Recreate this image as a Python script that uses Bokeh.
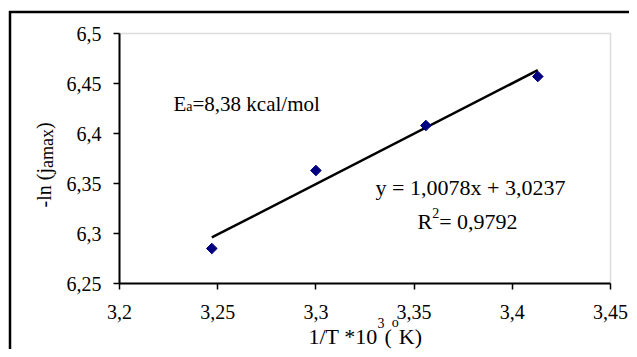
import numpy as np
from bokeh.plotting import figure
from bokeh.models import FixedTicker, Label, BoxAnnotation, Range1d, LinearAxis
from bokeh.embed import file_html
from bokeh.resources import INLINE

# ---- data ----
inv_T = [3.247, 3.300, 3.356, 3.413]
neg_ln_j = [6.285, 6.363, 6.408, 6.457]
slope = 1.0078
intercept = 3.0237

x_ticks = [3.2, 3.25, 3.3, 3.35, 3.4, 3.45]
x_tick_labels = ["3,2", "3,25", "3,3", "3,35", "3,4", "3,45"]
y_ticks = [6.25, 6.3, 6.35, 6.4, 6.45, 6.5]
y_tick_labels = ["6,25", "6,3", "6,35", "6,4", "6,45", "6,5"]

ea_text = "=8,38 kcal/mol"
eq_text = "y = 1,0078x + 3,0237"
r2_text = " = 0,9792"

FONT = "Liberation Serif"

# ---- geometry (canvas pixels) ----
W, H = 629, 349
X0, X1 = 3.2, 3.45
Y0, Y1 = 6.25, 6.5
FL, FR, FT, FB = 119, 610, 33, 283      # plot area
SX = (FR - FL) / (X1 - X0)
SY = (FB - FT) / (Y1 - Y0)
SHIFT = 8                               # renderer's text baseline offset

def dx(px):
    return X0 + (px - FL) / SX

def dy(py):
    return Y0 + (FB - py) / SY

p = figure(width=W, height=H, output_backend="svg", toolbar_location=None,
           x_range=Range1d(dx(0), dx(W)), y_range=Range1d(dy(H), dy(0)),
           x_axis_location=None, y_axis_location=None,
           min_border=0)
p.background_fill_color = "white"
p.border_fill_color = "white"
p.grid.visible = False
p.outline_line_color = None

# plot-area frame (grey top/right)
p.add_layout(BoxAnnotation(left=X0, right=X1, bottom=Y0, top=Y1,
                           fill_alpha=0, line_color="#8c8c8c", line_width=1.5,
                           level="underlay"))

xaxis = LinearAxis(fixed_location=Y0, bounds=(X0, X1), ticker=FixedTicker(ticks=x_ticks))
yaxis = LinearAxis(fixed_location=X0, bounds=(Y0, Y1), ticker=FixedTicker(ticks=y_ticks))
xaxis.major_label_overrides = dict(zip(x_ticks, x_tick_labels))
yaxis.major_label_overrides = dict(zip(y_ticks, y_tick_labels))
xaxis.major_label_standoff = 15
yaxis.major_label_standoff = 12
for ax in (xaxis, yaxis):
    ax.axis_line_color = "black"
    ax.axis_line_width = 2
    ax.major_tick_line_color = "black"
    ax.major_tick_line_width = 1.5
    ax.major_tick_in = 0
    ax.major_tick_out = 6
    ax.minor_tick_line_color = None
    ax.major_label_text_font = FONT
    ax.major_label_text_font_size = "20px"
    ax.major_label_text_color = "black"
p.add_layout(xaxis, "below")
p.add_layout(yaxis, "left")

# trend line
xl = np.array([min(inv_T), max(inv_T)])
p.line(xl, slope * xl + intercept, line_color="black", line_width=2.5)

# points
p.scatter(inv_T, neg_ln_j, marker="square", angle=np.pi / 4, size=7.5,
          fill_color="#000080", line_color="#000080")

def lab(x, y, text, size, align="left"):
    p.add_layout(Label(x=dx(x), y=dy(y - SHIFT), text=text, text_font=FONT,
                       text_font_size=f"{size}px", text_color="black",
                       text_align=align, text_baseline="alphabetic"))

def vlab(x, y, text, size):
    p.add_layout(Label(x=dx(x - SHIFT + 1), y=dy(y), text=text, text_font=FONT,
                       text_font_size=f"{size}px", text_color="black",
                       text_align="left", text_baseline="alphabetic",
                       angle=np.pi / 2))

# E_a annotation
lab(173, 111, "E", 21)
lab(185.8, 114, "a", 14)
lab(192, 111, ea_text, 21)

# regression equation
lab(470, 195, eq_text, 22, align="center")
lab(417, 229, "R", 22)
lab(431.7, 220, "2", 14)
lab(438.7, 229, r2_text, 22)

# x axis label
lab(308, 344, "1/T *10", 22)
lab(377, 330, "3", 14)
lab(384, 344, "(", 22)
lab(391.3, 330, "o", 14)
lab(398.3, 344, "K)", 22)

# y axis label (rotated)
vlab(50, 207, "-ln (j", 20)
vlab(53, 167.6, "amax", 18)
vlab(50, 128.6, ")", 20)

# outer chart border (left and top edges; the rest lies beyond the view)
p.line([dx(9.5), dx(9.5), dx(W + 20)], [dy(H + 20), dy(11.5), dy(11.5)],
       line_color="black", line_width=2.5, line_join="miter")

open("out.html", "w").write(file_html(p, INLINE))
